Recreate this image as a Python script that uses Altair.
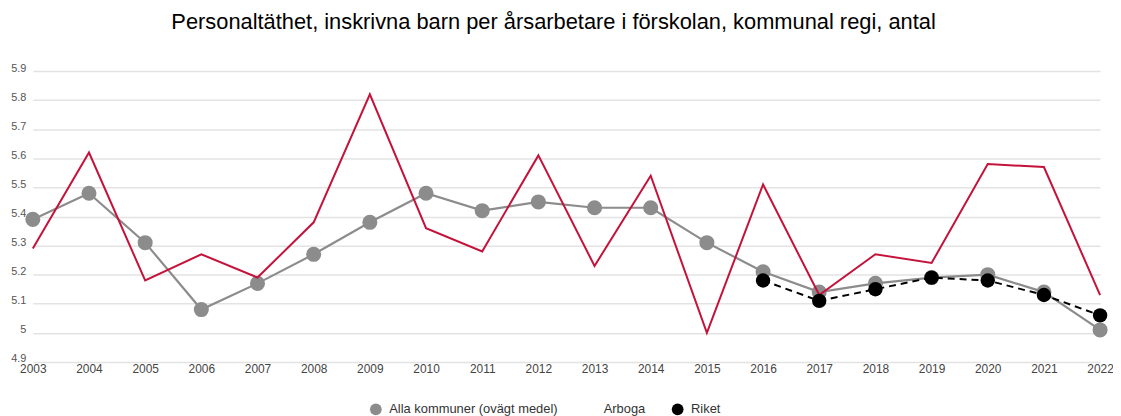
import altair as alt
import pandas as pd

years = list(range(2003, 2023))
alla = [5.39, 5.48, 5.31, 5.08, 5.17, 5.27, 5.38, 5.48, 5.42, 5.45,
        5.43, 5.43, 5.31, 5.21, 5.14, 5.17, 5.19, 5.20, 5.14, 5.01]
arboga = [5.29, 5.62, 5.18, 5.27, 5.19, 5.38, 5.82, 5.36, 5.28, 5.61,
          5.23, 5.54, 5.00, 5.51, 5.13, 5.27, 5.24, 5.58, 5.57, 5.13]
riket_years = [2016, 2017, 2018, 2019, 2020, 2021, 2022]
riket = [5.18, 5.11, 5.15, 5.19, 5.18, 5.13, 5.06]

series_names = ["Alla kommuner (ovägt medel)", "Arboga", "Riket"]
series_colors = ["#8c8c8c", "#c4123a", "#000000"]
legend_opacity = [1, 0, 1]
y_ticks = [4.9, 5.0, 5.1, 5.2, 5.3, 5.4, 5.5, 5.6, 5.7, 5.8, 5.9]
title_text = "Personaltäthet, inskrivna barn per årsarbetare i förskolan, kommunal regi, antal"

rows = []
for y, v in zip(years, alla):
    rows.append({"year": y, "value": v, "serie": series_names[0]})
for y, v in zip(years, arboga):
    rows.append({"year": y, "value": v, "serie": series_names[1]})
for y, v in zip(riket_years, riket):
    rows.append({"year": y, "value": v, "serie": series_names[2]})
df = pd.DataFrame(rows)

x_enc = alt.X("year:Q",
              scale=alt.Scale(domain=[2003, 2022], nice=False, zero=False),
              axis=alt.Axis(values=years, format="d", title=None, grid=False,
                            domain=False, ticks=False, labelFontSize=12,
                            labelColor="#444444", labelPadding=2,
                            labelFlush=False))
y_enc = alt.Y("value:Q",
              scale=alt.Scale(domain=[4.9, 5.9], nice=False, zero=False),
              axis=alt.Axis(values=y_ticks, format=".1~f", title=None,
                            domain=False, ticks=False, gridColor="#e3e3e3",
                            gridWidth=1.5, labelFontSize=11,
                            labelColor="#555555", labelPadding=7,
                            labelOffset=-3))
legend_def = alt.Legend(title=None, orient="none", direction="horizontal",
                        legendX=339, legendY=334,
                        symbolType="circle", symbolSize=140,
                        symbolStrokeWidth=0,
                        labelFontSize=13, labelColor="#333333",
                        labelLimit=400,
                        columnPadding=26, labelOffset=7)
color_enc = alt.Color("serie:N",
                      scale=alt.Scale(domain=series_names, range=series_colors),
                      legend=legend_def)
opacity_enc = alt.Opacity("serie:N",
                          scale=alt.Scale(type="ordinal", domain=series_names,
                                          range=legend_opacity),
                          legend=legend_def)

base = alt.Chart(df).encode(x=x_enc, y=y_enc)

def only(i):
    return base.transform_filter(alt.datum.serie == series_names[i])

gray_line = only(0).mark_line(strokeWidth=2.2).encode(color=color_enc)
gray_pts = only(0).mark_circle(size=230, opacity=1).encode(color=color_enc)
red_line = only(1).mark_line(strokeWidth=2).encode(color=color_enc)
black_line = only(2).mark_line(strokeWidth=2, strokeDash=[7, 5]).encode(color=color_enc)
black_pts = only(2).mark_circle(size=210, opacity=1).encode(color=color_enc)

# legend carrier (invisible marks): merges color + opacity into one legend
legend_layer = base.mark_circle(size=0).encode(color=color_enc, opacity=opacity_enc)

chart = alt.layer(gray_line, gray_pts, red_line, black_line, black_pts,
                  legend_layer).properties(
    width=1075, height=293,
    title=alt.TitleParams(title_text, fontSize=22, fontWeight="normal",
                          color="#000000", anchor="middle", dx=-13, offset=28),
    autosize=alt.AutoSizeParams(type="none"),
    padding={"left": 25, "top": 62, "right": 13, "bottom": 58},
).configure(font="Liberation Sans").configure_view(stroke=None)

chart.save("out.html", embed_options={"renderer": "svg", "actions": False})
